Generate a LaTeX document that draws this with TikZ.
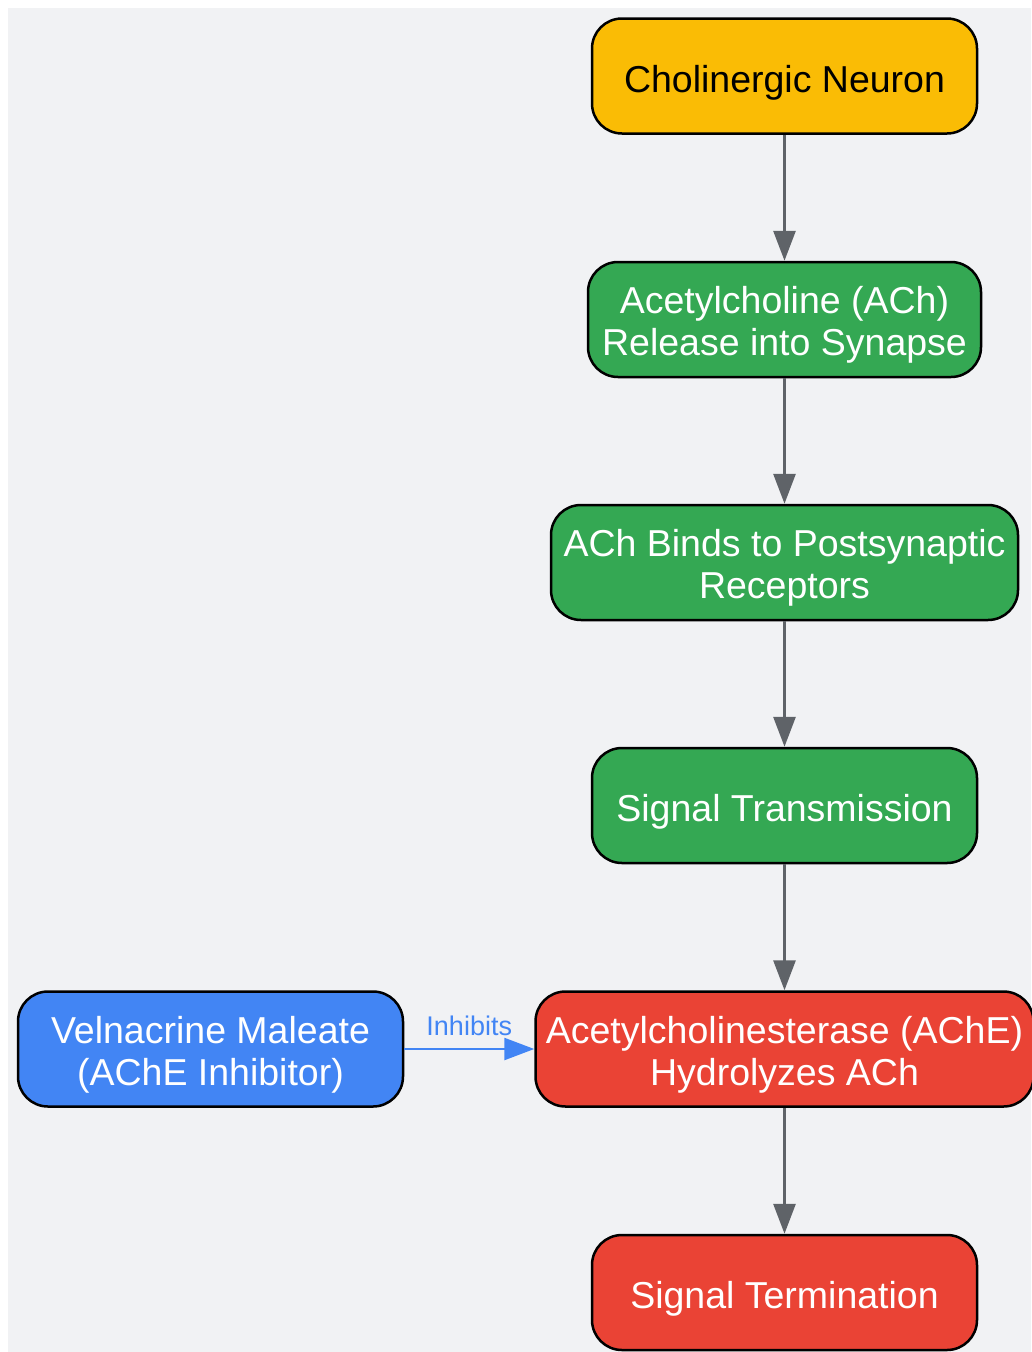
\documentclass[tikz,border=0pt]{standalone}
\usepackage{fontspec}
\setmainfont{Liberation Sans}
\usetikzlibrary{arrows.meta}
\definecolor{bgcol}{HTML}{F1F2F4}
\definecolor{yellowcol}{HTML}{FABC05}
\definecolor{greencol}{HTML}{34A853}
\definecolor{redcol}{HTML}{EA4335}
\definecolor{bluecol}{HTML}{4285F4}
\definecolor{arrowcol}{HTML}{5F6368}
\tikzset{
    box/.style={draw=black, line width=2.5pt, rounded corners=30pt, align=center,
        minimum height=115pt, inner sep=0pt, font=\fontsize{37.5}{42}\selectfont,
        execute at begin node={\rule{0pt}{40pt}}},
    twoline/.style={box, execute at begin node={\rule{0pt}{80pt}}},
    flow/.style={draw=arrowcol, line width=3pt, -{Triangle[length=30pt,width=22pt]}},
}
\begin{document}
\begin{tikzpicture}[x=1pt,y=-1pt]
        \useasboundingbox (0,0) rectangle (1031,1352);
        \fill[bgcol] (8,8) rectangle (1031,1352);

        \node[box, fill=yellowcol, text=black, minimum width=385pt] (neuron) at (784.5,76) {Cholinergic Neuron};
        \node[twoline, fill=greencol, text=white, minimum width=393pt] (release) at (784.5,319.5) {Acetylcholine (ACh)\\Release into Synapse};
        \node[twoline, fill=greencol, text=white, minimum width=467pt] (binds) at (784.5,562.5) {ACh Binds to Postsynaptic\\Receptors};
        \node[box, fill=greencol, text=white, minimum width=385pt] (signal) at (784.5,805.5) {Signal Transmission};
        \node[twoline, fill=redcol, text=white, minimum width=498pt] (ache) at (784.5,1049) {Acetylcholinesterase (AChE)\\Hydrolyzes ACh};
        \node[box, fill=redcol, text=white, minimum width=385pt] (term) at (784.5,1292.5) {Signal Termination};
        \node[twoline, fill=bluecol, text=white, minimum width=385pt] (velna) at (210.5,1049) {Velnacrine Maleate\\(AChE Inhibitor)};

        \draw[flow] (neuron) -- (release);
        \draw[flow] (release) -- (binds);
        \draw[flow] (binds) -- (signal);
        \draw[flow] (signal) -- (ache);
        \draw[flow] (ache) -- (term);
        \draw[flow, draw=bluecol, line width=2.5pt] (velna) -- node[above=9pt, text=bluecol, font=\fontsize{27}{30}\selectfont]{Inhibits} (ache);
    \end{tikzpicture}
\end{document}
